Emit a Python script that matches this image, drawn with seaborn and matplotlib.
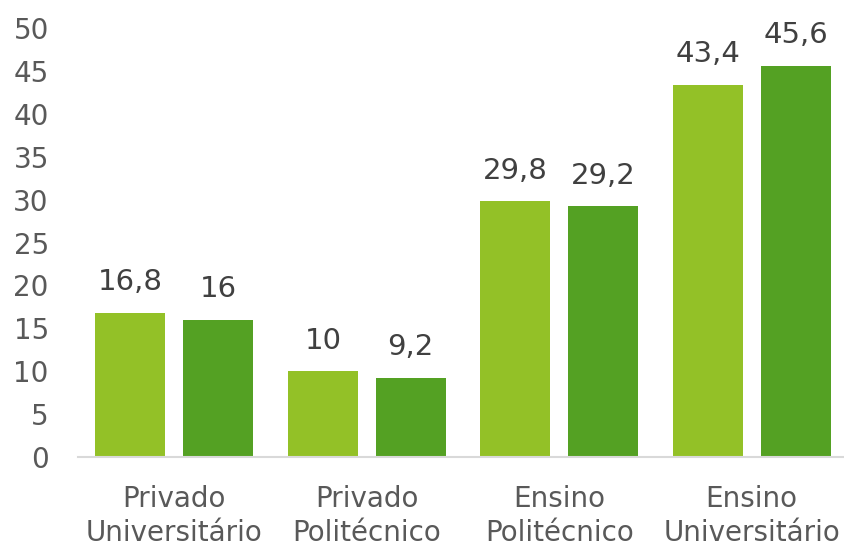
import matplotlib
matplotlib.use("Agg")
import matplotlib.pyplot as plt
import seaborn as sns
import pandas as pd

categories = ["Privado\nUniversitário", "Privado\nPolitécnico", "Ensino\nPolitécnico", "Ensino\nUniversitário"]
series_names = ["Série 1", "Série 2"]
series1 = [16.8, 10, 29.8, 43.4]
series2 = [16, 9.2, 29.2, 45.6]
yticks = [0, 5, 10, 15, 20, 25, 30, 35, 40, 45, 50]
colors = ["#93C127", "#54A123"]

df = pd.DataFrame({
    "cat": categories * 2,
    "serie": [series_names[0]] * 4 + [series_names[1]] * 4,
    "val": series1 + series2,
})

sns.set_theme(style="white")
plt.rcParams["font.family"] = ["DejaVu Sans"]

fig = plt.figure(figsize=(8.44, 5.49), dpi=100)
ax = fig.add_axes([78 / 844, 92 / 549, 770 / 844, 429 / 549])
sns.barplot(data=df, x="cat", y="val", hue="serie", palette=colors,
            width=0.912, gap=0.205, ax=ax, legend=False, saturation=1,
            linewidth=0)

for cont in ax.containers:
    labels = [f"{v:g}".replace(".", ",") for v in cont.datavalues]
    ax.bar_label(cont, labels=labels, padding=12, fontsize=21, color="#404040")

ax.set_xlim(-0.5, 3.5)
ax.set_ylim(0, 50)
ax.set_yticks(yticks)
ax.set_yticklabels([str(t) for t in yticks])
ax.set_xlabel("")
ax.set_ylabel("")
for s in ["top", "right", "left"]:
    ax.spines[s].set_visible(False)
ax.spines["bottom"].set_color("#D9D9D9")
ax.spines["bottom"].set_linewidth(1.5)
ax.tick_params(axis="y", length=0, pad=21, labelsize=20, labelcolor="#595959")
ax.tick_params(axis="x", length=0, pad=20, labelsize=20, labelcolor="#595959")
for lab in ax.get_xticklabels():
    lab.set_linespacing(1.3)

fig.savefig("out.png", dpi=100)
